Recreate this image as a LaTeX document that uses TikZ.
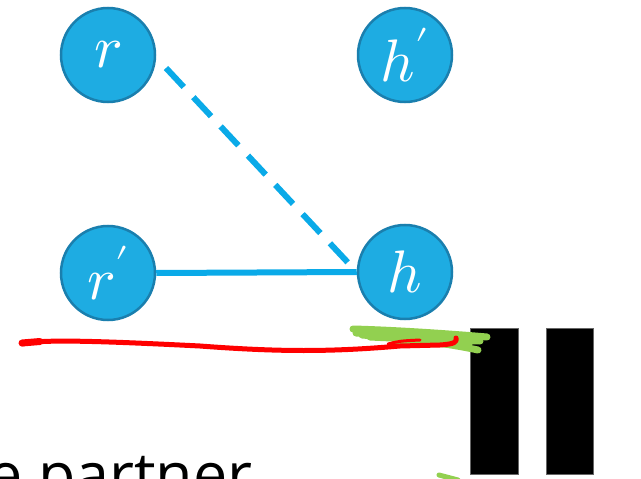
\documentclass[tikz,border=0pt]{standalone}
\usepackage{fontspec}
\usepackage{unicode-math}
\setmathfont{Latin Modern Math}
\newfontfamily\osans{Open Sans}
\definecolor{nodefill}{HTML}{1EACE2}
\definecolor{nodeedge}{HTML}{1A7FAE}
\definecolor{edgeblue}{HTML}{0AAAE8}
\definecolor{inkred}{HTML}{FF0000}
\definecolor{inkgreen}{HTML}{92D050}
\tikzset{
  vert/.style={circle, fill=nodefill, draw=nodeedge, line width=2.5pt, minimum size=94pt, inner sep=0pt, text=white, font=\fontsize{60}{62}\selectfont},
  link/.style={draw=edgeblue, line width=6pt},
  dashlink/.style={link, dash pattern=on 26pt off 14pt},
  redink/.style={draw=inkred, line width=5pt, line cap=round, line join=round},
  greenink/.style={draw=inkgreen, line width=7pt, line cap=round, line join=round},
  bar/.style={fill=black, draw=black!60, line width=0.6pt}
}
\begin{document}
\begin{tikzpicture}[x=1pt,y=-1pt]
\useasboundingbox (0,0) rectangle (641,479);
\node[vert] (r) at (108,55) {$r$};
\node[vert] (hp) at (405,55) {$h'$};
\node[vert] (rp) at (108,273) {$r'$};
\node[vert] (h) at (405,272) {$h$};
\coordinate (ds) at (166,68);
\draw[dashlink] (ds) -- (h.west);
\draw[link] (rp.east) -- (h.west);
% bars
\node[bar, minimum width=48pt, minimum height=146pt, inner sep=0pt] (b1) at (494,401) {};
\node[bar, minimum width=47pt, minimum height=146pt, inner sep=0pt] (b2) at (569.5,401) {};
% green scribble
\draw[greenink] (353,329) .. controls (390,330) and (440,333) .. (487,337);
\draw[greenink] (356,333) .. controls (400,334) and (440,337) .. (470,342);
\draw[greenink] (362,335) .. controls (400,338) and (440,342) .. (478,350);
\draw[greenink] (370,337) .. controls (410,339) and (450,340) .. (480,341);
\draw[greenink] (395,343) -- (462,344);
\draw[greenink, line width=5pt] (439,475) -- (458,480);
% red ink
\draw[redink] (22,344) .. controls (40,339) and (100,341) .. (200,346)
  .. controls (280,352) and (330,352) .. (400,346) -- (440,345)
  .. controls (455,344) and (457,342) .. (456,338);
\draw[redink, line width=3pt] (388,344) .. controls (400,341) .. (420,340);
\draw[redink, line width=7pt] (22,343) -- (40,341.5);
% text
\node[anchor=base west, inner sep=0pt, font=\osans\fontsize{61}{63}\selectfont] (txt) at (-12,496) {e partner};
\end{tikzpicture}
\end{document}
